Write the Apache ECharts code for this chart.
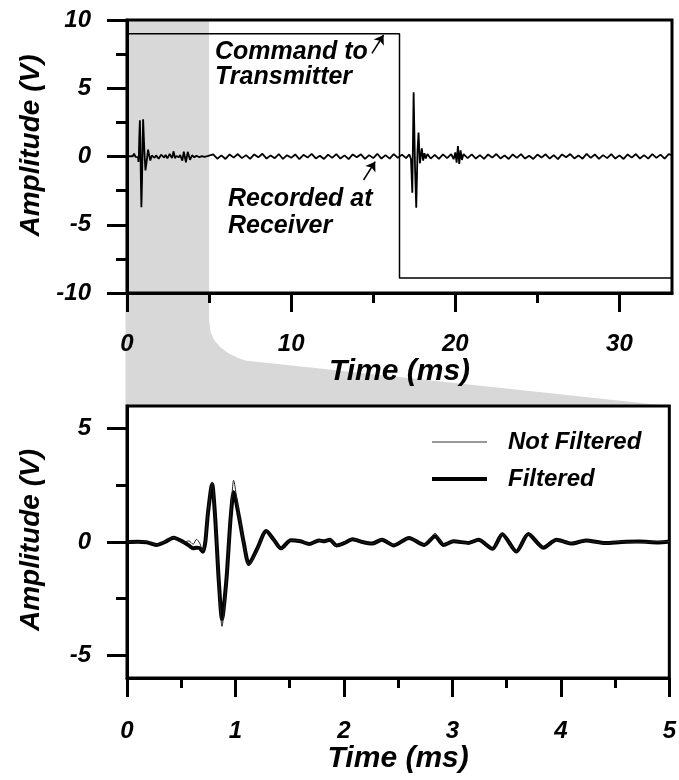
<!DOCTYPE html>
<html><head><meta charset="utf-8">
<script src="https://cdn.jsdelivr.net/npm/echarts@6/dist/echarts.min.js"></script>
<style>html,body{margin:0;padding:0;background:#fff}#c{width:679px;height:780px}</style>
</head><body><div id="c"></div><script>
const FONT = '"Liberation Sans", Arial, Helvetica, sans-serif';

// ---------- Top panel (full record) ----------
const topXMax = 33.2;
const topXTicks = [0, 10, 20, 30];
const topXMinorTicks = [5, 15, 25];
const commandTime = [0, 16.6, 16.6, 33.2];
const commandAmp = [9, 9, -8.9, -8.9];
const receiverTrace = [
  [5.25,0.15],[5.5,-0.16],[5.75,0.08],[6.0,-0.18],[6.25,0.15],[6.5,-0.08],[6.75,0.18],[7.0,-0.12],
  [7.25,0.10],[7.5,-0.18],[7.75,0.15],[8.0,-0.06],[8.25,0.20],[8.5,-0.15],[8.75,0.08],[9.0,-0.12],
  [9.25,0.18],[9.5,-0.18],[9.75,0.10],[10.0,-0.10],[10.25,0.15],[10.5,-0.20],[10.75,0.12],[11.0,-0.08],
  [11.25,0.19],[11.5,-0.14],[11.75,0.06],[12.0,-0.18],[12.25,0.14],[12.5,-0.10],[12.75,0.18],[13.0,-0.15],
  [13.25,0.08],[13.5,-0.19],[13.75,0.15],[14.0,-0.06],[14.25,0.16],[14.5,-0.18],[14.75,0.10],[15.0,-0.12],
  [15.25,0.20],[15.5,-0.15],[15.75,0.10],[16.0,-0.16],[16.25,0.18],[16.5,-0.10],[16.75,0.14],[17.0,-0.12],
  [17.2,0.15],[17.3,-0.20],[17.38,-2.65],[17.46,4.70],[17.55,-1.0],[17.62,-3.75],[17.70,0.5],[17.76,1.75],
  [17.84,-0.5],[17.90,-0.45],[17.96,0.6],[18.04,-0.3],[18.12,0.25],[18.2,-0.15],[18.3,0.18],[18.5,-0.15],
  [18.75,0.12],[19.0,-0.18],[19.25,0.15],[19.5,-0.12],[19.75,0.18],[19.9,-0.20],[20.0,0.30],[20.08,-0.45],
  [20.16,0.77],[20.24,-0.55],[20.32,0.45],[20.40,-0.25],[20.5,0.18],[20.75,-0.12],[21.0,0.15],[21.25,-0.15],
  [21.5,0.10],[21.75,-0.18],[22.0,0.15],[22.25,-0.08],[22.5,0.18],[22.75,-0.14],[23.0,0.08],[23.25,-0.18],
  [23.5,0.15],[23.75,-0.10],[24.0,0.18],[24.25,-0.15],[24.5,0.06],[24.75,-0.18],[25.0,0.14],[25.25,-0.08],
  [25.5,0.16],[25.75,-0.15],[26.0,0.10],[26.25,-0.19],[26.5,0.15],[26.75,-0.06],[27.0,0.18],[27.25,-0.14],
  [27.5,0.08],[27.75,-0.16],[28.0,0.19],[28.25,-0.10],[28.5,0.15],[28.75,-0.18],[29.0,0.10],[29.25,-0.12],
  [29.5,0.18],[29.75,-0.15],[30.0,0.08],[30.25,-0.18],[30.5,0.15],[30.75,-0.08],[31.0,0.18],[31.25,-0.15],
  [31.5,0.10],[31.75,-0.16],[32.0,0.18],[32.25,-0.10],[32.5,0.14],[32.75,-0.15],[33.0,0.18],[33.2,0.08]
];
const cmdArrow = [[14.92, 7.56], [15.63, 8.9]];
const recArrow = [[14.41, -1.72], [15.12, -0.38]];

// ---------- Bottom panel (first 5 ms) ----------
const zoomEnd = 5;
const zoomTime = [0,0.10,0.18,0.27,0.35,0.43,0.52,0.57,0.61,0.64,
  0.67,0.70,0.722,0.747,0.785,0.81,0.826,0.846,0.876,0.916,
  0.94,0.956,0.983,1.033,1.075,1.124,1.20,1.284,1.35,1.42,
  1.51,1.60,1.68,1.77,1.82,1.87,1.93,2.00,2.08,2.17,
  2.26,2.35,2.46,2.60,2.74,2.84,2.92,3.01,3.15,3.24,
  3.37,3.46,3.59,3.70,3.84,3.96,4.10,4.23,4.41,4.56,
  4.72,4.90,5.00];
const filteredAmp = [0,0.01,-0.01,-0.13,0.00,0.19,0.00,-0.15,-0.28,-0.25,
  -0.27,-0.43,0.00,1.30,2.55,1.30,0.00,-1.70,-3.40,-1.70,
  0.00,1.10,2.20,1.10,0.00,-0.97,-0.30,0.48,0.12,-0.28,
  0.08,0.03,-0.09,0.07,0.03,0.10,-0.15,-0.05,0.12,0.00,
  -0.07,0.10,-0.15,0.18,-0.13,0.25,-0.13,0.03,-0.04,0.10,
  -0.30,0.34,-0.42,0.35,-0.25,0.10,-0.07,0.07,-0.04,0.00,
  0.02,-0.02,0.02];
const notFilteredAmp = [0,0.00,0.02,-0.12,0.02,0.20,-0.02,0.05,-0.10,0.12,
  -0.05,-0.40,0.00,1.35,2.65,1.30,0.00,-1.80,-3.72,-1.75,
  0.00,1.20,2.72,1.15,0.00,-1.02,-0.35,0.50,0.10,-0.30,
  0.07,0.05,-0.10,0.08,0.02,0.12,-0.16,-0.04,0.13,0.01,
  -0.08,0.11,-0.14,0.18,-0.12,0.38,-0.12,0.04,-0.05,0.10,
  -0.30,0.35,-0.42,0.34,-0.24,0.09,-0.06,0.06,-0.06,0.03,
  -0.03,0.02,0.02];
const bottomYTicks = [-5, 0, 5];
const bottomYMinorTicks = [-2.5, 2.5];

const zip = (xs, ys) => xs.map((x, i) => [x, ys[i]]);

const txt = (size) => ({color:'#000', fontFamily:FONT, fontStyle:'italic', fontWeight:'bold', fontSize:size});
const axisLineStyle = {show:true, onZero:false, lineStyle:{color:'#000', width:3}};
const noLine = {show:false, onZero:false};
const majorTick = (len) => ({show:true, inside:false, length:len, lineStyle:{color:'#000', width:3}});

const chart = echarts.init(document.getElementById('c'), null, {renderer:'canvas'});

const option = {
  animation:false,
  backgroundColor:'#fff',
  grid:[
    {left:127, right:7, top:20, height:273, show:true, borderColor:'#000', borderWidth:3, backgroundColor:'transparent'},
    {left:127, right:7, top:406, height:272, show:true, borderColor:'#000', borderWidth:3, backgroundColor:'transparent'}
  ],
  xAxis:[
    {type:'value', gridIndex:0, position:'bottom', min:0, max:topXMax,
     axisLine:axisLineStyle,
     axisTick:Object.assign(majorTick(19), {customValues:topXTicks}),
     axisLabel:Object.assign(txt(24), {margin:39, customValues:topXTicks}),
     splitLine:{show:false},
     name:'Time (ms)', nameLocation:'middle', nameGap:61, nameTextStyle:txt(30)},
    {type:'value', gridIndex:0, position:'bottom', min:0, max:topXMax,
     axisLine:noLine,
     axisTick:Object.assign(majorTick(10), {customValues:topXMinorTicks}),
     axisLabel:{show:false}, splitLine:{show:false}},
    {type:'value', gridIndex:1, position:'bottom', min:0, max:zoomEnd, interval:1,
     axisLine:axisLineStyle,
     axisTick:majorTick(19),
     minorTick:{show:true, splitNumber:2, length:10, lineStyle:{color:'#000', width:3}},
     axisLabel:Object.assign(txt(24), {margin:41}),
     splitLine:{show:false}, minorSplitLine:{show:false},
     name:'Time (ms)', nameLocation:'middle', nameGap:65, nameTextStyle:txt(30)}
  ],
  yAxis:[
    {type:'value', gridIndex:0, position:'left', min:-10, max:10, interval:5,
     axisLine:axisLineStyle,
     axisTick:majorTick(20),
     minorTick:{show:true, splitNumber:2, length:11, lineStyle:{color:'#000', width:3}},
     axisLabel:Object.assign(txt(24), {margin:36}),
     splitLine:{show:false}, minorSplitLine:{show:false},
     name:'Amplitude (V)', nameLocation:'middle', nameGap:82,
     nameTextStyle:Object.assign(txt(28), {padding:[0,0,0,22]})},
    {type:'value', gridIndex:1, position:'left', min:-6, max:6,
     axisLine:axisLineStyle,
     axisTick:Object.assign(majorTick(20), {customValues:bottomYTicks}),
     axisLabel:Object.assign(txt(24), {margin:36, customValues:bottomYTicks}),
     splitLine:{show:false},
     name:'Amplitude (V)', nameLocation:'middle', nameGap:82,
     nameTextStyle:Object.assign(txt(28), {padding:[0,0,0,4]})},
    {type:'value', gridIndex:1, position:'left', min:-6, max:6,
     axisLine:noLine,
     axisTick:Object.assign(majorTick(11), {customValues:bottomYMinorTicks}),
     axisLabel:{show:false}, splitLine:{show:false}}
  ],
  legend:{
    data:[
      {name:'Not Filtered', lineStyle:{width:1, color:'#333'}, itemStyle:{opacity:0}},
      {name:'Filtered', lineStyle:{width:4, color:'#000'}, itemStyle:{opacity:0}}
    ],
    orient:'vertical', left:430, top:430, padding:0,
    itemWidth:55, itemHeight:14, itemGap:13,
    selectedMode:false,
    itemStyle:{opacity:0, borderWidth:0},
    textStyle:Object.assign(txt(24), {padding:[0,0,0,16]})
  },
  series:[
    {name:'Command to Transmitter', type:'line', xAxisIndex:0, yAxisIndex:0,
     data:zip(commandTime, commandAmp), showSymbol:false, symbol:'none',
     lineStyle:{color:'#000', width:1.5}, itemStyle:{color:'#000'}, z:3,
     markLine:{silent:true, symbol:['none','arrow'], symbolSize:9, label:{show:false},
       lineStyle:{color:'#000', width:1.5, type:'solid'},
       data:[[{coord:cmdArrow[0]}, {coord:cmdArrow[1]}]]}},
    {name:'Recorded at Receiver', type:'line', xAxisIndex:0, yAxisIndex:0,
     data:zip(zoomTime, notFilteredAmp).concat(receiverTrace), showSymbol:false, symbol:'none',
     lineStyle:{color:'#000', width:1.8}, itemStyle:{color:'#000'}, z:3,
     markLine:{silent:true, symbol:['none','arrow'], symbolSize:9, label:{show:false},
       lineStyle:{color:'#000', width:1.5, type:'solid'},
       data:[[{coord:recArrow[0]}, {coord:recArrow[1]}]]}},
    {name:'Filtered', type:'line', xAxisIndex:2, yAxisIndex:1,
     data:zip(zoomTime, filteredAmp), showSymbol:false, symbol:'none', smooth:0.25,
     lineStyle:{color:'#000', width:4}, itemStyle:{color:'#000'}, z:3},
    {name:'Not Filtered', type:'line', xAxisIndex:2, yAxisIndex:1,
     data:zip(zoomTime, notFilteredAmp), showSymbol:false, symbol:'none', smooth:0.25,
     lineStyle:{color:'#222', width:1}, itemStyle:{color:'#222'}, z:4}
  ],
  graphic:[
    {id:'cmdText', type:'text', left:215, top:40, z:10,
     style:{text:'Command to\nTransmitter', font:'italic bold 25px ' + FONT, lineHeight:25, fill:'#000'}},
    {id:'recText', type:'text', left:228, top:186, z:10,
     style:{text:'Recorded at\nReceiver', font:'italic bold 25px ' + FONT, lineHeight:27, fill:'#000'}}
  ]
};
chart.setOption(option);

// grey "zoom" band linking the first 5 ms of the top panel to the bottom panel
const tTL = chart.convertToPixel({xAxisIndex:0, yAxisIndex:0}, [0, 10]);
const tTR = chart.convertToPixel({xAxisIndex:0, yAxisIndex:0}, [zoomEnd, 10]);
const tBR = chart.convertToPixel({xAxisIndex:0, yAxisIndex:0}, [zoomEnd, -10]);
const bL = chart.convertToPixel({xAxisIndex:2, yAxisIndex:1}, [0, 6]);
const bR = chart.convertToPixel({xAxisIndex:2, yAxisIndex:1}, [zoomEnd, 6]);
const bx = tBR[0], by = tBR[1];
const curve = [[0,27],[1.5,39],[5,47],[11,54],[19,60],[28,64.5],[36,67.5]];
const pts = [[tTL[0]-1.5, tTL[1]], [tTR[0], tTR[1]]]
  .concat(curve.map(p => [bx + p[0], by + p[1]]))
  .concat([[bR[0], bR[1]], [bL[0]-1.5, bL[1]]]);
chart.setOption({graphic:[
  {id:'zoomFan', type:'polygon', z:-5, silent:true,
   shape:{points:pts}, style:{fill:'#d8d8d8', stroke:null}}
]});
</script></body></html>
